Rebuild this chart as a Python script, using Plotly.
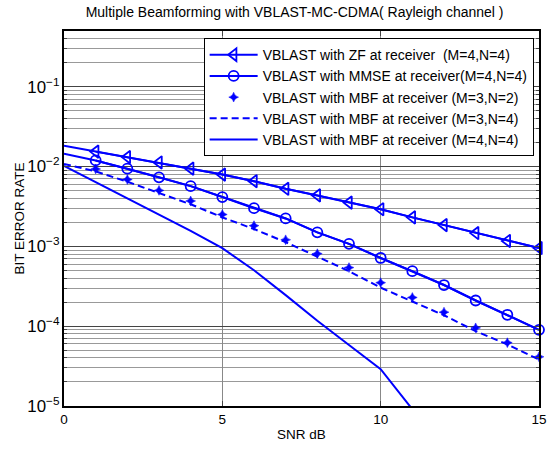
import plotly.graph_objects as go

snr = list(range(16))
zf_ber = [0.0182, 0.0154, 0.01315, 0.01127, 0.00942, 0.00794, 0.00656, 0.00527,
          0.00436, 0.00354, 0.00292, 0.00231, 0.00185, 0.00147, 0.00117, 0.000953]
mmse_ber = [0.0145, 0.01194, 0.00942, 0.00734, 0.00569, 0.00415, 0.00301, 0.00224,
            0.00150, 0.001076, 0.000716, 0.000489, 0.000328, 0.00021, 0.000139, 0.00009]
mbf32_snr = list(range(1, 16))
mbf32_ber = [0.00933, 0.00689, 0.00503, 0.00371, 0.00251, 0.00182, 0.00121, 0.00081,
             0.000543, 0.000351, 0.000229, 0.000150, 0.0000953, 0.0000621, 0.0000413]
mbf34_ber = [0.0108, 0.0087, 0.00646, 0.0047, 0.00337, 0.00231, 0.00165, 0.00113,
             0.000736, 0.000489, 0.000304, 0.000204, 0.000137, 0.0000867, 0.0000592, 0.0000382]
mbf44_snr = list(range(12))
mbf44_ber = [0.0102, 0.00641, 0.00401, 0.00251, 0.00157, 0.00095, 0.000502, 0.000245,
             0.000117, 0.000058, 0.000029, 0.0000091]

names = ["VBLAST with ZF at receiver  (M=4,N=4)",
         "VBLAST with MMSE at receiver(M=4,N=4)",
         "VBLAST with MBF at receiver (M=3,N=2)",
         "VBLAST with MBF at receiver (M=3,N=4)",
         "VBLAST with MBF at receiver (M=4,N=4)"]

BLUE = "#0000FF"
FONT = "Arial, Liberation Sans, sans-serif"

fig = go.Figure()
# ZF: line from 0, markers from 1
fig.add_trace(go.Scatter(x=snr, y=zf_ber, mode="lines", showlegend=False,
                         line=dict(color=BLUE, width=2)))
fig.add_trace(go.Scatter(x=snr[1:], y=zf_ber[1:], mode="lines+markers", name=names[0],
                         line=dict(color=BLUE, width=2), cliponaxis=False,
                         marker=dict(symbol="triangle-left-open", size=11, color=BLUE,
                                     line=dict(width=1.8, color=BLUE))))
fig.add_trace(go.Scatter(x=snr, y=mmse_ber, mode="lines", showlegend=False,
                         line=dict(color=BLUE, width=2)))
fig.add_trace(go.Scatter(x=snr[1:], y=mmse_ber[1:], mode="lines+markers", name=names[1],
                         line=dict(color=BLUE, width=2), cliponaxis=False,
                         marker=dict(symbol="circle-open", size=10, color=BLUE,
                                     line=dict(width=1.8, color=BLUE))))
fig.add_trace(go.Scatter(x=mbf32_snr, y=mbf32_ber, mode="markers", name=names[2],
                         cliponaxis=False,
                         marker=dict(symbol="star-diamond", size=7, color=BLUE,
                                     line=dict(width=0.5, color=BLUE))))
fig.add_trace(go.Scatter(x=snr, y=mbf34_ber, mode="lines", name=names[3],
                         line=dict(color=BLUE, width=2, dash="7px,4px")))
fig.add_trace(go.Scatter(x=mbf44_snr, y=mbf44_ber, mode="lines", name=names[4],
                         line=dict(color=BLUE, width=2)))

fig.update_layout(
    width=559, height=452,
    margin=dict(l=64, r=14, t=31, b=43),
    paper_bgcolor="white", plot_bgcolor="white",
    font=dict(family=FONT, size=13, color="black"),
    title=dict(text="Multiple Beamforming with VBLAST-MC-CDMA( Rayleigh channel )",
               x=0.527, xanchor="center", y=0.985, yanchor="top",
               font=dict(size=14, family=FONT, color="black")),
    legend=dict(x=0.294, y=0.981, xanchor="left", yanchor="top",
                bgcolor="white", bordercolor="black", borderwidth=1,
                font=dict(size=14, family=FONT), itemwidth=48,
                tracegroupgap=0),
    showlegend=True,
)
fig.update_xaxes(
    range=[0, 15], tickvals=[0, 5, 10, 15], ticks="inside", ticklen=5,
    showline=True, linecolor="black", linewidth=1.5, mirror="ticks",
    showgrid=True, gridcolor="#888888", gridwidth=1, zeroline=False,
    title=dict(text="SNR dB", standoff=4, font=dict(size=13.5)),
    tickfont=dict(size=13.5),
)
fig.update_yaxes(
    type="log", range=[-5, -0.301], dtick=1, exponentformat="power",
    showexponent="all", ticks="inside", ticklen=5,
    showline=True, linecolor="black", linewidth=1.5, mirror="ticks",
    showgrid=True, gridcolor="#444444", gridwidth=1, zeroline=False,
    minor=dict(dtick="D1", showgrid=True, gridcolor="#999999", gridwidth=1,
               ticks="inside", ticklen=3),
    title=dict(text="BIT ERROR RATE", standoff=0, font=dict(size=13.5)),
    tickfont=dict(size=13.5),
)

fig.write_html("out.html")
